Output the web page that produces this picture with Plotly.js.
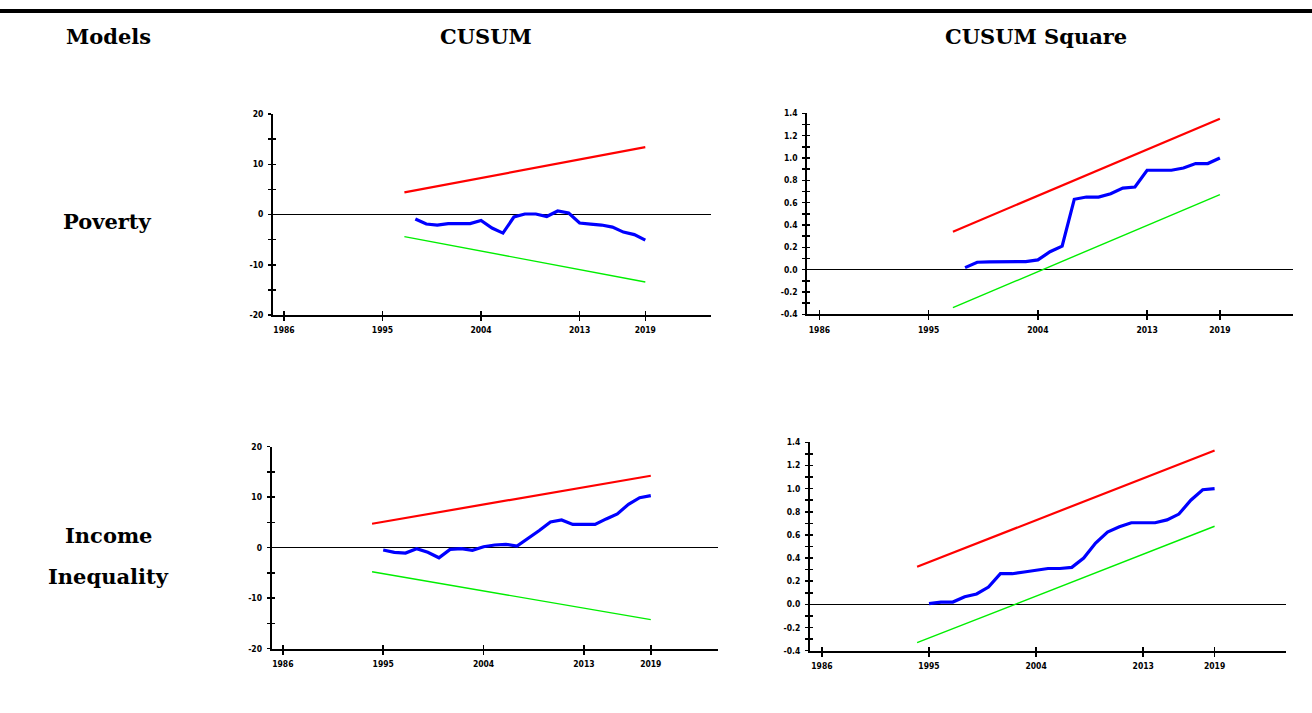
<!DOCTYPE html>
<html><head><meta charset="utf-8">
<script src="https://cdn.plot.ly/plotly-3.0.1.min.js"></script>
<style>html,body{margin:0;padding:0;background:#fff;} #chart{width:1312px;height:713px;}</style>
</head><body><div id="chart"></div>
<script>
// ---------- DATA ----------
const xTickVals = [1986, 1995, 2004, 2013, 2019];
const xTickText = ['1986', '1995', '2004', '2013', '2019'];

const cusumTickVals = [-20, -15, -10, -5, 0, 5, 10, 15, 20];
const cusumTickText = ['-20', '', '-10', '', '0', '', '10', '', '20'];
const sqTickVals = [-0.4, -0.3, -0.2, -0.1, 0, 0.1, 0.2, 0.3, 0.4, 0.5, 0.6, 0.7, 0.8, 0.9, 1.0, 1.1, 1.2, 1.3, 1.4];
const sqTickText = ['-0.4', '', '-0.2', '', '0.0', '', '0.2', '', '0.4', '', '0.6', '', '0.8', '', '1.0', '', '1.2', '', '1.4'];

// Poverty model
const povBandYears = [1997,1998,1999,2000,2001,2002,2003,2004,2005,2006,2007,2008,2009,2010,2011,2012,2013,2014,2015,2016,2017,2018,2019];
const povYears = [1998,1999,2000,2001,2002,2003,2004,2005,2006,2007,2008,2009,2010,2011,2012,2013,2014,2015,2016,2017,2018,2019];
const povCusum = [-0.9,-1.9,-2.1,-1.8,-1.8,-1.8,-1.2,-2.7,-3.7,-0.5,0.1,0.1,-0.4,0.7,0.3,-1.7,-1.9,-2.1,-2.5,-3.5,-4.0,-5.1];
const povCusumUpper = [4.40,4.81,5.22,5.63,6.04,6.45,6.86,7.27,7.68,8.09,8.50,8.91,9.32,9.73,10.14,10.55,10.96,11.37,11.78,12.19,12.60,13.01,13.42];
const povCusumLower = [-4.40,-4.81,-5.22,-5.63,-6.04,-6.45,-6.86,-7.27,-7.68,-8.09,-8.50,-8.91,-9.32,-9.73,-10.14,-10.55,-10.96,-11.37,-11.78,-12.19,-12.60,-13.01,-13.42];
const povSq = [0.018,0.066,0.069,0.072,0.072,0.072,0.087,0.16,0.21,0.63,0.65,0.65,0.68,0.73,0.74,0.89,0.89,0.89,0.91,0.95,0.95,1.0];
const povSqUpper = [0.34,0.386,0.432,0.478,0.524,0.57,0.616,0.662,0.708,0.754,0.80,0.846,0.892,0.938,0.984,1.03,1.076,1.122,1.168,1.214,1.26,1.306,1.352];
const povSqLower = [-0.34,-0.294,-0.248,-0.202,-0.156,-0.11,-0.064,-0.018,0.028,0.074,0.12,0.166,0.212,0.258,0.304,0.35,0.396,0.442,0.488,0.534,0.58,0.626,0.672];

// Income inequality model
const ineqBandYears = [1994,1995,1996,1997,1998,1999,2000,2001,2002,2003,2004,2005,2006,2007,2008,2009,2010,2011,2012,2013,2014,2015,2016,2017,2018,2019];
const ineqYears = [1995,1996,1997,1998,1999,2000,2001,2002,2003,2004,2005,2006,2007,2008,2009,2010,2011,2012,2013,2014,2015,2016,2017,2018,2019];
const ineqCusum = [-0.46,-0.92,-1.06,-0.2,-0.92,-2.0,-0.33,-0.2,-0.53,0.2,0.53,0.66,0.33,1.85,3.4,5.1,5.5,4.6,4.6,4.6,5.7,6.7,8.6,9.9,10.3];
const ineqCusumUpper = [4.75,5.13,5.51,5.89,6.27,6.65,7.03,7.41,7.79,8.17,8.55,8.93,9.31,9.69,10.07,10.45,10.83,11.21,11.59,11.97,12.35,12.73,13.11,13.49,13.87,14.25];
const ineqCusumLower = [-4.75,-5.13,-5.51,-5.89,-6.27,-6.65,-7.03,-7.41,-7.79,-8.17,-8.55,-8.93,-9.31,-9.69,-10.07,-10.45,-10.83,-11.21,-11.59,-11.97,-12.35,-12.73,-13.11,-13.49,-13.87,-14.25];
const ineqSq = [0.006,0.02,0.02,0.066,0.09,0.15,0.265,0.265,0.28,0.297,0.31,0.31,0.32,0.40,0.53,0.625,0.67,0.705,0.705,0.705,0.73,0.78,0.90,0.99,1.0];
const ineqSqUpper = [0.325,0.365,0.405,0.446,0.486,0.526,0.566,0.606,0.647,0.687,0.727,0.767,0.807,0.848,0.888,0.928,0.968,1.008,1.049,1.089,1.129,1.169,1.209,1.25,1.29,1.33];
const ineqSqLower = [-0.33,-0.29,-0.25,-0.209,-0.169,-0.129,-0.089,-0.049,-0.008,0.032,0.072,0.112,0.152,0.193,0.233,0.273,0.313,0.353,0.394,0.434,0.474,0.514,0.554,0.595,0.635,0.675];

const headers = ['Models', 'CUSUM', 'CUSUM Square'];
const rowLabels = ['Poverty', 'Income', 'Inequality'];

// ---------- LAYOUT HELPERS ----------
const W = 1312, H = 713;
const panels = [
  {box: [273, 711, 114, 315], yr: [-20, 20], tv: cusumTickVals, tt: cusumTickText,
   bandX: povBandYears, up: povCusumUpper, lo: povCusumLower, x: povYears, y: povCusum},
  {box: [807.3, 1292.7, 113.3, 314.3], yr: [-0.4, 1.4], tv: sqTickVals, tt: sqTickText,
   bandX: povBandYears, up: povSqUpper, lo: povSqLower, x: povYears, y: povSq},
  {box: [271.7, 717.7, 446.7, 648.7], yr: [-20, 20], tv: cusumTickVals, tt: cusumTickText,
   bandX: ineqBandYears, up: ineqCusumUpper, lo: ineqCusumLower, x: ineqYears, y: ineqCusum},
  {box: [810, 1286, 442.3, 650.7], yr: [-0.4, 1.4], tv: sqTickVals, tt: sqTickText,
   bandX: ineqBandYears, up: ineqSqUpper, lo: ineqSqLower, x: ineqYears, y: ineqSq}
];
const xRange = [1985, 2025];
const tickFont = {family: 'DejaVu Sans Condensed, Liberation Sans Narrow, sans-serif', size: 8.5, color: '#000', weight: 'bold'};

const traces = [];
const layout = {
  width: W, height: H,
  margin: {l: 0, r: 0, t: 0, b: 0},
  paper_bgcolor: '#fff', plot_bgcolor: 'rgba(0,0,0,0)',
  showlegend: false,
  shapes: [{type: 'line', xref: 'paper', yref: 'paper', x0: 0, x1: 1, y0: 1 - 11 / H, y1: 1 - 11 / H,
            line: {color: '#000', width: 4}}],
  annotations: []
};

panels.forEach((p, i) => {
  const n = i + 1, m = i + 5;
  const xd = [p.box[0] / W, p.box[1] / W];
  const yd = [1 - p.box[3] / H, 1 - p.box[2] / H];
  const common = {showgrid: false, fixedrange: true};
  layout['xaxis' + n] = Object.assign({}, common, {
    domain: xd, range: xRange, anchor: 'y' + n,
    tickmode: 'array', tickvals: xTickVals, ticktext: xTickText,
    ticks: 'outside', ticklen: 4, tickwidth: 1.5, tickcolor: '#000',
    showline: true, linewidth: 2, linecolor: '#000', zeroline: false,
    tickfont: tickFont, ticklabelstandoff: 2
  });
  layout['yaxis' + n] = Object.assign({}, common, {
    domain: yd, range: p.yr, anchor: 'x' + n,
    tickmode: 'array', tickvals: p.tv, ticktext: p.tt,
    ticks: 'outside', ticklen: 3, tickwidth: 1.5, tickcolor: '#000',
    showline: true, linewidth: 2, linecolor: '#000',
    zeroline: true, zerolinecolor: '#000', zerolinewidth: 1.5,
    tickfont: tickFont, ticklabelstandoff: 3
  });
  layout['xaxis' + m] = Object.assign({}, common, {
    domain: xd, range: xRange, anchor: 'y' + m, overlaying: 'x' + n,
    tickmode: 'array', tickvals: xTickVals,
    ticks: 'inside', ticklen: 4, tickwidth: 1.5, tickcolor: '#000',
    showticklabels: false, showline: false, zeroline: false
  });
  layout['yaxis' + m] = Object.assign({}, common, {
    domain: yd, range: p.yr, anchor: 'x' + m, overlaying: 'y' + n,
    tickmode: 'array', tickvals: p.tv,
    ticks: 'inside', ticklen: 3, tickwidth: 1.5, tickcolor: '#000',
    showticklabels: false, showline: false, zeroline: false
  });
  traces.push({type: 'scatter', mode: 'lines', x: p.bandX, y: p.up, xaxis: 'x' + n, yaxis: 'y' + n,
               line: {color: '#ff0000', width: 2.2}, hoverinfo: 'skip'});
  traces.push({type: 'scatter', mode: 'lines', x: p.bandX, y: p.lo, xaxis: 'x' + n, yaxis: 'y' + n,
               line: {color: '#00ee00', width: 1.4}, hoverinfo: 'skip'});
  traces.push({type: 'scatter', mode: 'lines', x: p.x, y: p.y, xaxis: 'x' + n, yaxis: 'y' + n,
               line: {color: '#0000ff', width: 3.2}, hoverinfo: 'skip'});
  traces.push({type: 'scatter', mode: 'lines', x: [], y: [], xaxis: 'x' + m, yaxis: 'y' + m, hoverinfo: 'skip'});
});

const hFont = {family: 'DejaVu Serif, serif', size: 21, color: '#000', weight: 'bold'};
function ann(text, px, py) {
  layout.annotations.push({text: '<b>' + text + '</b>', xref: 'paper', yref: 'paper',
    x: px / W, y: 1 - py / H, xanchor: 'center', yanchor: 'middle', showarrow: false, font: hFont});
}
ann(headers[0], 108, 36);
ann(headers[1], 485.5, 36);
ann(headers[2], 1036, 36);
ann(rowLabels[0], 107, 222);
ann(rowLabels[1], 108, 535);
ann(rowLabels[2], 108, 576);

Plotly.newPlot('chart', traces, layout, {displayModeBar: false, staticPlot: true});
</script>
</body></html>
